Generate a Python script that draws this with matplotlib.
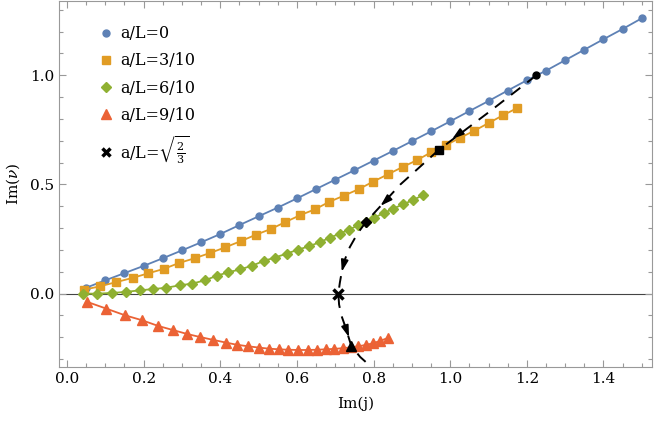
import numpy as np
import matplotlib
matplotlib.use("Agg")
import matplotlib.pyplot as plt
from matplotlib.lines import Line2D

plt.rcParams['font.family'] = ['DejaVu Serif']
plt.rcParams['mathtext.fontset'] = 'dejavuserif'

# a/L = 0
x0 = [0.05, 0.10, 0.15, 0.20, 0.25, 0.30, 0.35, 0.40, 0.45, 0.50, 0.55, 0.60, 0.65, 0.70, 0.75,
      0.80, 0.85, 0.90, 0.95, 1.00, 1.05, 1.10, 1.15, 1.20, 1.25, 1.30, 1.35, 1.40, 1.45, 1.50]
y0 = [0.027, 0.061, 0.094, 0.127, 0.162, 0.198, 0.235, 0.273, 0.314, 0.354, 0.394, 0.436, 0.479, 0.522, 0.565,
      0.609, 0.653, 0.698, 0.743, 0.789, 0.836, 0.882, 0.930, 0.977, 1.021, 1.069, 1.117, 1.165, 1.212, 1.261]

# a/L = 3/10
x3 = [0.044, 0.085, 0.129, 0.171, 0.212, 0.252, 0.292, 0.333, 0.373, 0.413, 0.453, 0.492, 0.532, 0.569,
      0.608, 0.647, 0.684, 0.723, 0.762, 0.799, 0.837, 0.876, 0.913, 0.950, 0.988, 1.025, 1.063, 1.100,
      1.138, 1.175]
y3 = [0.018, 0.033, 0.053, 0.072, 0.093, 0.113, 0.140, 0.162, 0.186, 0.212, 0.240, 0.269, 0.296, 0.327,
      0.359, 0.386, 0.420, 0.449, 0.479, 0.513, 0.546, 0.580, 0.611, 0.647, 0.679, 0.713, 0.746, 0.781,
      0.817, 0.850]

# a/L = 6/10
x6 = [0.042, 0.078, 0.118, 0.153, 0.190, 0.225, 0.259, 0.294, 0.327, 0.360, 0.391, 0.421, 0.452, 0.483,
      0.514, 0.542, 0.573, 0.602, 0.632, 0.660, 0.686, 0.712, 0.736, 0.760, 0.780, 0.802, 0.827, 0.851,
      0.877, 0.902, 0.928]
y6 = [0.000, 0.000, 0.003, 0.008, 0.015, 0.021, 0.027, 0.038, 0.046, 0.061, 0.082, 0.098, 0.111, 0.128,
      0.150, 0.165, 0.183, 0.201, 0.217, 0.236, 0.256, 0.275, 0.293, 0.313, 0.328, 0.348, 0.369, 0.389,
      0.409, 0.428, 0.450]

# a/L = 9/10
x9 = [0.053, 0.103, 0.151, 0.196, 0.238, 0.277, 0.314, 0.348, 0.382, 0.414, 0.443, 0.472, 0.500, 0.527,
      0.553, 0.578, 0.603, 0.628, 0.652, 0.675, 0.697, 0.719, 0.740, 0.760, 0.780, 0.799, 0.818, 0.837]
y9 = [-0.038, -0.069, -0.099, -0.122, -0.148, -0.167, -0.185, -0.199, -0.212, -0.224, -0.234, -0.241,
      -0.247, -0.252, -0.255, -0.257, -0.258, -0.258, -0.257, -0.255, -0.253, -0.250, -0.246, -0.241,
      -0.235, -0.227, -0.216, -0.203]

# dashed trajectory
xd = [1.225, 1.10, 0.97, 0.87, 0.78, 0.758, 0.738, 0.726, 0.718, 0.712, 0.708,
      0.710, 0.716, 0.726, 0.742, 0.765, 0.80]
yd = [1.000, 0.83, 0.658, 0.50, 0.328, 0.275, 0.213, 0.16, 0.11, 0.05, 0.000,
      -0.05, -0.10, -0.15, -0.24, -0.29, -0.345]

# black markers on the trajectory
dot = (1.225, 1.000)
sq = (0.970, 0.658)
dia = (0.780, 0.328)
cross = (0.708, 0.000)
tri = (0.742, -0.240)

# arrow tails and tips
arrows = [((1.030, 0.742), (1.005, 0.708)),
          ((0.835, 0.430), (0.818, 0.402)),
          ((0.724, 0.150), (0.717, 0.100)),
          ((0.724, -0.140), (0.736, -0.200))]

blue = '#5E81B5'
orange = '#E19C24'
green = '#8FB032'
red = '#EB6235'
gray = '#999999'

fig = plt.figure(figsize=(6.54, 4.25), dpi=100)
ax = fig.add_axes([59/654, 1-367/425, 593/654, 366.2/425])

ax.axhline(0, color='#444444', lw=0.8, zorder=1)

ax.plot(x0, y0, '-o', color=blue, ms=5, lw=1.3, zorder=3)
ax.plot(x3, y3, '-s', color=orange, ms=5.5, lw=1.3, zorder=3)
ax.plot(x6, y6, '-D', color=green, ms=5, lw=1.3, zorder=3)
ax.plot(x9, y9, '-^', color=red, ms=6.5, lw=1.3, zorder=3)

ax.plot(xd, yd, '--', color='k', lw=1.4, dashes=(6, 4.5), zorder=4)
ax.plot(*dot, 'o', color='k', ms=5, zorder=5)
ax.plot(*sq, 's', color='k', ms=6, zorder=5)
ax.plot(*dia, 'D', color='k', ms=5.5, zorder=5)
ax.plot(*tri, '^', color='k', ms=7, zorder=5)
ax.plot(*cross, 'x', color='k', ms=7, mew=2.5, zorder=5)

for tail, tip in arrows:
    ax.annotate('', xy=tip, xytext=tail,
                arrowprops=dict(arrowstyle='-|>,head_length=0.7,head_width=0.22', color='k', lw=1.2,
                                shrinkA=0, shrinkB=0), zorder=6)

ax.set_xlim(-0.0209, 1.5266)
ax.set_ylim(-0.336, 1.341)
ax.set_xticks([0.0, 0.2, 0.4, 0.6, 0.8, 1.0, 1.2, 1.4])
ax.set_xticks(np.arange(0, 1.55, 0.05), minor=True)
ax.set_yticks([0.0, 0.5, 1.0])
ax.set_yticks(np.arange(-0.3, 1.35, 0.1), minor=True)
ax.xaxis.set_major_formatter(plt.FormatStrFormatter('%.1f'))
ax.yaxis.set_major_formatter(plt.FormatStrFormatter('%.1f'))
ax.tick_params(which='both', direction='in', top=True, right=True, color=gray, labelsize=11)
ax.tick_params(which='major', length=5, width=0.8)
ax.tick_params(which='minor', length=3, width=0.8)
for s in ax.spines.values():
    s.set_color(gray)
    s.set_linewidth(0.8)

ax.set_xlabel('Im(j)', fontsize=11, labelpad=8)
ax.set_ylabel(r'Im($\nu$)', fontsize=11, labelpad=6)

handles = [Line2D([], [], ls='', marker='o', color=blue, ms=5),
           Line2D([], [], ls='', marker='s', color=orange, ms=5.5),
           Line2D([], [], ls='', marker='D', color=green, ms=5),
           Line2D([], [], ls='', marker='^', color=red, ms=6.5),
           Line2D([], [], ls='', marker='x', color='k', ms=6, mew=2.5)]
labels = ['a/L=0', 'a/L=3/10', 'a/L=6/10', 'a/L=9/10', r'a/L=$\sqrt{\frac{2}{3}}$']
ax.legend(handles, labels, loc='upper left', bbox_to_anchor=(0.055, 0.955), frameon=False,
          fontsize=11.5, handlelength=0.8, handletextpad=0.5, labelspacing=0.64, borderpad=0)

fig.savefig('out.png', dpi=100)
